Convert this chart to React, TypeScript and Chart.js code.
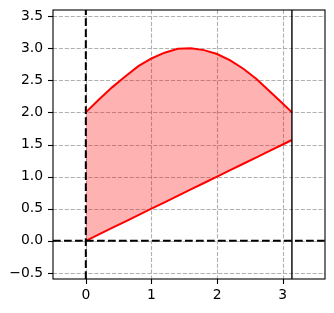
import React, { useEffect, useRef } from "react";
import { Chart, registerables } from "chart.js";

Chart.register(...registerables);

const xs = [0, 0.2, 0.4, 0.6, 0.8, 1.0, 1.2, 1.4, 1.6, 1.8, 2.0, 2.2, 2.4, 2.6, 2.8, 3.0, 3.14];
const upperY = [2.0, 2.2, 2.39, 2.56, 2.72, 2.84, 2.93, 2.99, 3.0, 2.97, 2.91, 2.81, 2.68, 2.52, 2.33, 2.14, 2.0];
const lowerY = [0.0, 0.1, 0.2, 0.3, 0.4, 0.5, 0.6, 0.7, 0.8, 0.9, 1.0, 1.1, 1.2, 1.3, 1.4, 1.5, 1.57];
const xTicks = [0, 1, 2, 3];
const yTicks = [-0.5, 0, 0.5, 1.0, 1.5, 2.0, 2.5, 3.0, 3.5];
const dashedVLines = [0];
const dashedHLines = [0];
const solidVLines = [3.14];

const fmtY = (v: number) => (v < 0 ? "\u2212" : "") + Math.abs(v).toFixed(1);

export default function App() {
  const ref = useRef<HTMLCanvasElement | null>(null);
  useEffect(() => {
    document.body.style.margin = "0";
    const canvas = ref.current!;
    const decor = {
      id: "decor",
      beforeDatasetsDraw(chart: any) {
        const { ctx, chartArea: a, scales } = chart;
        const xs_ = scales.x, ys_ = scales.y;
        ctx.save();
        ctx.strokeStyle = "#b0b0b0";
        ctx.lineWidth = 1.1;
        ctx.setLineDash([4.1, 1.8]);
        for (const t of xTicks) {
          const px = Math.round(xs_.getPixelForValue(t)) + 0.5;
          ctx.beginPath(); ctx.moveTo(px, a.top); ctx.lineTo(px, a.bottom); ctx.stroke();
        }
        for (const t of yTicks) {
          const py = Math.round(ys_.getPixelForValue(t)) + 0.5;
          ctx.beginPath(); ctx.moveTo(a.left, py); ctx.lineTo(a.right, py); ctx.stroke();
        }
        ctx.restore();
      },
      afterDatasetsDraw(chart: any) {
        const { ctx, chartArea: a, scales } = chart;
        const xs_ = scales.x, ys_ = scales.y;
        ctx.save();
        ctx.strokeStyle = "#000";
        ctx.lineWidth = 2;
        ctx.setLineDash([7.7, 3.3]);
        for (const v of dashedVLines) {
          const px = xs_.getPixelForValue(v);
          ctx.beginPath(); ctx.moveTo(px, a.bottom); ctx.lineTo(px, a.top); ctx.stroke();
        }
        for (const v of dashedHLines) {
          const py = ys_.getPixelForValue(v);
          ctx.beginPath(); ctx.moveTo(a.left, py); ctx.lineTo(a.right, py); ctx.stroke();
        }
        ctx.setLineDash([]);
        ctx.lineWidth = 1.4;
        for (const v of solidVLines) {
          const px = xs_.getPixelForValue(v);
          ctx.beginPath(); ctx.moveTo(px, a.bottom); ctx.lineTo(px, a.top); ctx.stroke();
        }
        ctx.lineWidth = 1.1;
        ctx.strokeRect(a.left, a.top, a.right - a.left, a.bottom - a.top);
        for (const t of xTicks) {
          const px = Math.round(xs_.getPixelForValue(t)) + 0.5;
          ctx.beginPath(); ctx.moveTo(px, a.bottom); ctx.lineTo(px, a.bottom + 5); ctx.stroke();
        }
        for (const t of yTicks) {
          const py = Math.round(ys_.getPixelForValue(t)) + 0.5;
          ctx.beginPath(); ctx.moveTo(a.left, py); ctx.lineTo(a.left - 5, py); ctx.stroke();
        }
        ctx.restore();
      },
    };
    const chart = new Chart(canvas, {
      type: "line",
      data: {
        datasets: [
          {
            data: xs.map((x, i) => ({ x, y: upperY[i] })),
            borderColor: "red",
            borderWidth: 2,
            backgroundColor: "rgba(255,0,0,0.3)",
            fill: "+1",
            pointRadius: 0,
            tension: 0,
          },
          {
            data: xs.map((x, i) => ({ x, y: lowerY[i] })),
            borderColor: "red",
            borderWidth: 2,
            fill: false,
            pointRadius: 0,
            tension: 0,
          },
        ],
      },
      options: {
        animation: false,
        responsive: false,
        events: [],
        layout: { padding: { top: 10, right: 9, left: 0, bottom: 0 } },
        plugins: { legend: { display: false }, tooltip: { enabled: false } },
        scales: {
          x: {
            type: "linear",
            min: -0.5,
            max: 3.644,
            grid: { display: false, drawTicks: false },
            border: { display: false },
            afterBuildTicks: (s: any) => { s.ticks = xTicks.map((v) => ({ value: v })); },
            afterFit: (s: any) => { s.height = 34; s.paddingLeft = 0; s.paddingRight = 0; },
            ticks: {
              autoSkip: false,
              maxRotation: 0,
              padding: 8,
              color: "#000",
              font: { family: "DejaVu Sans", size: 13.9 },
              callback: (v: any) => String(v),
            },
          },
          y: {
            type: "linear",
            min: -0.595,
            max: 3.595,
            grid: { display: false, drawTicks: false },
            border: { display: false },
            afterBuildTicks: (s: any) => { s.ticks = yTicks.map((v) => ({ value: v })); },
            afterFit: (s: any) => { s.width = 53; s.paddingTop = 0; s.paddingBottom = 0; },
            ticks: {
              autoSkip: false,
              padding: 10,
              color: "#000",
              font: { family: "DejaVu Sans", size: 13.9 },
              callback: (v: any) => fmtY(Number(v)),
            },
          },
        },
      },
      plugins: [decor],
    });
    return () => chart.destroy();
  }, []);
  return <canvas ref={ref} width={334} height={313} style={{ display: "block" }} />;
}
